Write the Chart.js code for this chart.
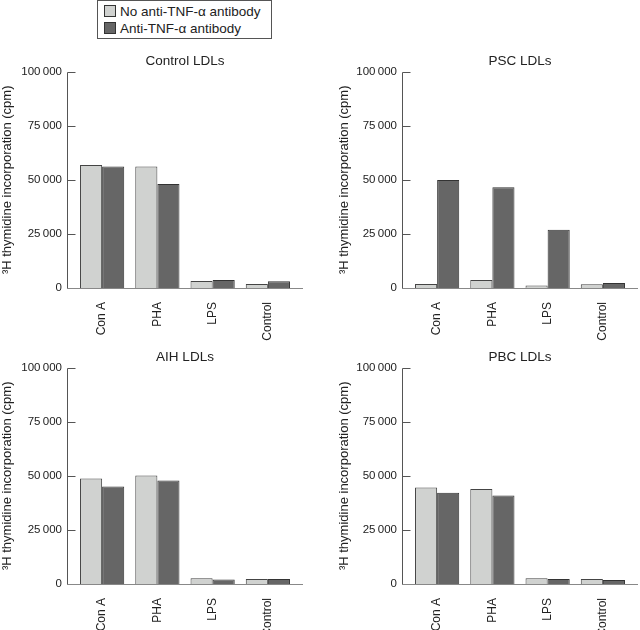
<!DOCTYPE html>
<html>
<head>
<meta charset="utf-8">
<script src="https://cdn.jsdelivr.net/npm/chart.js@4/dist/chart.umd.min.js"></script>
<style>
  html, body { margin: 0; padding: 0; background: #fff; overflow: hidden; }
  body { width: 640px; height: 630px; position: relative; font-family: "Liberation Sans", Arial, sans-serif; }
  .panel { position: absolute; width: 320px; height: 310px; }
  .legend {
    position: absolute; left: 97px; top: 0; width: 175px; height: 39px;
    border: 1px solid #555; font-size: 13.5px; color: #222; box-sizing: border-box;
  }
  .legend div { position: absolute; left: 6px; white-space: nowrap; line-height: 16px; }
  .legend span {
    display: inline-block; width: 10px; height: 10px; border: 1px solid #333;
    margin-right: 4px; vertical-align: -1px;
  }
</style>
</head>
<body>
<div class="legend">
  <div style="top:3px"><span style="background:#d0d2d0"></span>No anti-TNF-α antibody</div>
  <div style="top:20px"><span style="background:#666666"></span>Anti-TNF-α antibody</div>
</div>
<div class="panel" style="left:0;top:40px"><canvas id="c0" width="320" height="310"></canvas></div>
<div class="panel" style="left:320px;top:40px"><canvas id="c1" width="320" height="310"></canvas></div>
<div class="panel" style="left:0;top:336px"><canvas id="c2" width="320" height="310"></canvas></div>
<div class="panel" style="left:320px;top:336px"><canvas id="c3" width="320" height="310"></canvas></div>

<script>
// datos
const categories = ['Con A', 'PHA', 'LPS', 'Control'];
const seriesLabels = ['No anti-TNF-α antibody', 'Anti-TNF-α antibody'];
const panelTitles = ['Control LDLs', 'PSC LDLs', 'AIH LDLs', 'PBC LDLs'];
const yTicks = [0, 25000, 50000, 75000, 100000];

const controlNo = [56800, 56100, 3200, 1800];
const controlAnti = [56100, 48100, 3700, 3100];
const pscNo = [1800, 3700, 1200, 1700];
const pscAnti = [49900, 46500, 26900, 2300];
const aihNo = [48800, 50100, 2600, 2300];
const aihAnti = [45100, 47800, 2100, 2300];
const pbcNo = [44600, 43900, 2600, 2300];
const pbcAnti = [42200, 40900, 2300, 1800];

const panelData = [
    [controlNo, controlAnti],
    [pscNo, pscAnti],
    [aihNo, aihAnti],
    [pbcNo, pbcAnti]
];

const FONT = '"Liberation Sans", Arial, sans-serif';
const AXIS_GAP = 7.5;

// ejes dibujados a mano: linea Y con marcas hacia dentro, linea X mas larga
const axisPlugin = {
    id: 'axisLines',
    afterDatasetsDraw(chart) {
        const { ctx, chartArea, scales } = chart;
        const x0 = Math.round(chartArea.left - AXIS_GAP) + 0.5;
        const x1 = chartArea.right + AXIS_GAP;
        const y = scales.y;
        const yZero = Math.round(y.getPixelForValue(0)) + 0.5;
        const yTop = Math.round(y.getPixelForValue(yTicks[yTicks.length - 1])) + 0.5;
        ctx.save();
        ctx.lineWidth = 1;
        ctx.strokeStyle = '#555';
        ctx.beginPath();
        ctx.moveTo(x0, yTop);
        ctx.lineTo(x0, yZero);
        y.ticks.forEach(t => {
            const py = Math.round(y.getPixelForValue(t.value)) + 0.5;
            ctx.moveTo(x0, py);
            ctx.lineTo(x0 + 8, py);
        });
        ctx.stroke();
        ctx.strokeStyle = '#888';
        ctx.beginPath();
        ctx.moveTo(x0, yZero);
        ctx.lineTo(x1, yZero);
        ctx.stroke();
        ctx.restore();
    }
};

function formatThousands(v) {
    return String(v).replace(/\B(?=(\d{3})+(?!\d))/g, '\u2009');
}

function buildChart(idx) {
    const isRight = idx % 2 === 1;
    const padLeft = isRight ? 17 : 0;
    const yWidth = isRight ? 72.5 : 74.5;
    const padRight = isRight ? 9.5 : 24.5;
    const [noVals, antiVals] = panelData[idx];

    return new Chart(document.getElementById('c' + idx), {
        type: 'bar',
        data: {
            labels: categories,
            datasets: [{
                label: seriesLabels[0],
                data: noVals,
                backgroundColor: '#d0d2d0',
                borderColor: '#444',
                borderWidth: 1,
                categoryPercentage: 0.8,
                barPercentage: 1.0
            }, {
                label: seriesLabels[1],
                data: antiVals,
                backgroundColor: '#666666',
                borderColor: '#333',
                borderWidth: 1,
                categoryPercentage: 0.8,
                barPercentage: 1.0
            }]
        },
        options: {
            responsive: false,
            animation: false,
            layout: { padding: { left: padLeft, right: padRight, top: 13.4, bottom: 0 } },
            plugins: {
                legend: { display: false },
                tooltip: { enabled: false },
                title: {
                    display: true,
                    text: panelTitles[idx],
                    fullSize: false,
                    color: '#222',
                    font: { family: FONT, size: 13.5, weight: 'normal' },
                    padding: { top: 0, bottom: 2 }
                }
            },
            scales: {
                x: {
                    grid: { display: false },
                    border: { display: false },
                    ticks: {
                        color: '#222',
                        font: { family: FONT, size: 12 },
                        minRotation: 90,
                        maxRotation: 90,
                        autoSkip: false,
                        padding: 6
                    },
                    afterFit(scale) { scale.height = 62; }
                },
                y: {
                    min: 0,
                    max: 100000,
                    afterBuildTicks(scale) { scale.ticks = yTicks.map(v => ({ value: v })); },
                    grid: { display: false, drawTicks: false },
                    border: { display: false },
                    ticks: {
                        color: '#222',
                        font: { family: FONT, size: 11.5 },
                        padding: 12.5,
                        callback: v => formatThousands(v)
                    },
                    title: {
                        display: true,
                        text: '³H thymidine incorporation (cpm)',
                        color: '#222',
                        font: { family: FONT, size: 13 },
                        padding: 0
                    },
                    afterFit(scale) { scale.width = yWidth; }
                }
            }
        },
        plugins: [axisPlugin]
    });
}

const charts = [0, 1, 2, 3].map(buildChart);
</script>
</body>
</html>
